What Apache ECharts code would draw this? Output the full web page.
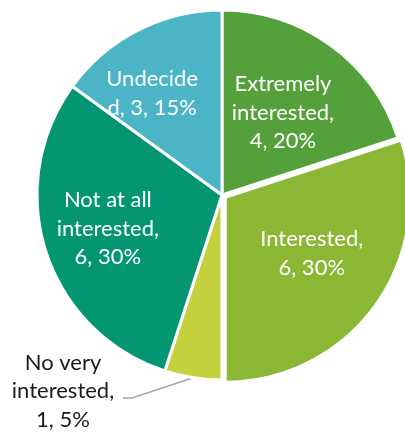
<!DOCTYPE html>
<html><head><meta charset="utf-8">
<script src="https://cdn.jsdelivr.net/npm/echarts@6/dist/echarts.min.js"></script>
<style>html,body{margin:0;padding:0;background:#fff}#c{width:405px;height:432px}</style>
</head><body><div id="c"></div>
<script>
const categories = ['Extremely interested', 'Interested', 'No very interested', 'Not at all interested', 'Undecided'];
const values = [4, 6, 1, 6, 3];
const percents = ['20%', '30%', '5%', '30%', '15%'];
const labelTexts = [
  'Extremely\ninterested,\n4, 20%',
  'Interested,\n6, 30%',
  'No very\ninterested,\n1, 5%',
  'Not at all\ninterested,\n6, 30%',
  'Undecide\nd, 3, 15%'
];
const colors = ['#54a03a', '#8cb735', '#c4d03e', '#049573', '#4bb4c5'];
const labelRadius = [102, 102, 0, 119, 123];
const labelNudge = [[1, 0], [4, -4], [0, 0], [-1, -3], [-14, 8]];

const CX = 222, CY = 195, R = 185;
const total = values.reduce((a, b) => a + b, 0);
function midAngle(i) {
  let s = 0;
  for (let j = 0; j < i; j++) s += values[j];
  return (s + values[i] / 2) / total * Math.PI * 2;
}
const chart = echarts.init(document.getElementById('c'));
chart.setOption({
  animation: false,
  series: [{
    type: 'pie',
    center: [CX, CY],
    radius: [0, R],
    startAngle: 90,
    clockwise: true,
    selectedMode: 'single',
    selectedOffset: 4,
    itemStyle: { borderColor: '#fff', borderWidth: 3 },
    emphasis: { disabled: true },
    label: {
      show: true,
      position: 'inside',
      color: '#fff',
      fontFamily: 'Lato',
      fontSize: 22,
      lineHeight: 28.5,
      align: 'center',
      textBorderWidth: 0,
      formatter: p => labelTexts[p.dataIndex]
    },
    labelLayout: function (p) {
      if (p.dataIndex === 2) {
        const a = midAngle(2);
        const sx = CX + R * Math.sin(a), sy = CY - R * Math.cos(a);
        const lx = 63, ly = 391;
        const right = lx + 54;
        return {
          x: lx, y: ly, align: 'center', verticalAlign: 'middle',
          labelLinePoints: [[sx, sy], [right + 15, ly + 7], [right + 6, ly + 7]]
        };
      }
      const r = p.labelRect;
      const lx = r.x + r.width / 2, ly = r.y + r.height / 2;
      const vx = lx - CX, vy = ly - CY;
      const d = Math.sqrt(vx * vx + vy * vy);
      const k = labelRadius[p.dataIndex] / d - 1;
      const n = labelNudge[p.dataIndex];
      return { dx: vx * k + n[0], dy: vy * k + n[1] };
    },
    data: categories.map((name, i) => {
      const item = { name: name, value: values[i], itemStyle: { color: colors[i] } };
      if (i === 1) item.selected = true;
      if (i === 2) {
        item.label = { position: 'outside', color: '#1a1a1a' };
        item.labelLine = { show: true, length: 12, length2: 8, lineStyle: { color: '#a6a6a6', width: 1.5 } };
      }
      return item;
    })
  }]
});
</script></body></html>
